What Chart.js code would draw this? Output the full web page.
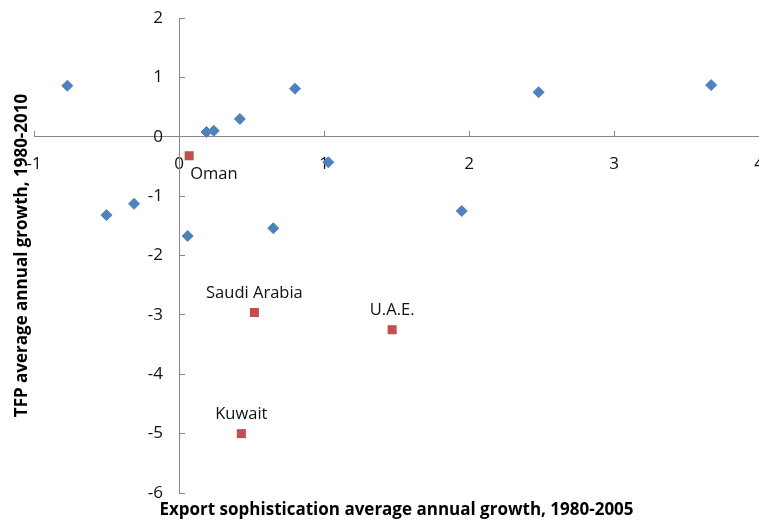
<!DOCTYPE html>
<html>
<head>
<meta charset="utf-8">
<script src="https://cdn.jsdelivr.net/npm/chart.js@4/dist/chart.umd.min.js"></script>
<style>
    html, body { margin: 0; padding: 0; background: #fff; }
    #wrap { width: 759px; height: 521px; }
</style>
</head>
<body>
<div id="wrap"><canvas id="chart"></canvas></div>
<script>
// Other economies (blue diamonds)
const otherX = [-0.77, -0.50, -0.31, 0.06, 0.19, 0.24, 0.42, 0.65, 0.80, 1.03, 1.95, 2.48, 3.67];
const otherY = [0.86, -1.32, -1.13, -1.67, 0.08, 0.10, 0.30, -1.54, 0.81, -0.43, -1.25, 0.75, 0.87];

// Gulf economies (red squares, labelled)
const gulfNames = ['Oman', 'Saudi Arabia', 'U.A.E.', 'Kuwait'];
const gulfX = [0.07, 0.52, 1.47, 0.43];
const gulfY = [-0.32, -2.96, -3.25, -5.0];

// Axis ranges
const xRange = [-1, 4];
const yRange = [-6, 2];

const xTitle = 'Export sophistication average annual growth, 1980-2005';
const yTitle = 'TFP average annual growth, 1980-2010';

const FONT = "'Open Sans', 'Noto Sans', sans-serif";
const AXIS_GREY = '#868686';

// Axes that cross at zero should not eat layout space
function zeroSize(scale) {
    if (scale.isHorizontal()) scale.height = 0; else scale.width = 0;
    scale.paddingLeft = scale.paddingRight = scale.paddingTop = scale.paddingBottom = 0;
}

/**
 * Move the y tick labels a little left of the crossing axis
 */
const yLabelGap = {
    id: 'yLabelGap',
    beforeDraw(chart) {
        const items = chart.scales.y.getLabelItems();
        if (items._shifted) return;
        items.forEach(item => { item.options.translation[0] -= 16; });
        items._shifted = true;
    }
};

/**
 * Draw country names next to the red squares
 */
const pointNames = {
    id: 'pointNames',
    afterDatasetsDraw(chart) {
        const meta = chart.getDatasetMeta(1);
        const ctx = chart.ctx;
        ctx.save();
        ctx.font = '16.5px ' + FONT;
        ctx.fillStyle = '#111';
        ctx.textBaseline = 'middle';
        meta.data.forEach((pt, i) => {
            if (i === 0) {
                // Oman sits below and to the right of its marker
                ctx.textAlign = 'left';
                ctx.fillText(gulfNames[i], pt.x + 1, pt.y + 19);
            } else {
                ctx.textAlign = 'center';
                ctx.fillText(gulfNames[i], pt.x, pt.y - 19);
            }
        });
        ctx.restore();
    }
};

const toPoints = (xs, ys) => xs.map((x, i) => ({ x: x, y: ys[i] }));

new Chart(document.getElementById('chart'), {
    type: 'scatter',
    data: {
        datasets: [
            {
                label: 'Other',
                data: toPoints(otherX, otherY),
                pointStyle: 'rectRot',
                pointRadius: 5.5,
                pointHoverRadius: 5.5,
                backgroundColor: '#4F81BD',
                borderColor: '#4F81BD',
                borderWidth: 1
            },
            {
                label: 'Gulf',
                data: toPoints(gulfX, gulfY),
                pointStyle: 'rect',
                pointRadius: 6.4,
                pointHoverRadius: 6.4,
                backgroundColor: '#C0504D',
                borderColor: '#C0504D',
                borderWidth: 0
            }
        ]
    },
    options: {
        responsive: true,
        maintainAspectRatio: false,
        animation: false,
        events: [],
        layout: {
            autoPadding: false,
            padding: { left: 8, right: -1, top: 18, bottom: 0 }
        },
        plugins: {
            legend: { display: false },
            tooltip: { enabled: false },
            title: {
                display: true,
                position: 'left',
                fullSize: false,
                text: yTitle,
                color: '#000',
                font: { family: FONT, size: 17, weight: 'bold' },
                padding: { top: 3.8, bottom: 1.8 }
            },
            subtitle: {
                display: true,
                position: 'bottom',
                fullSize: false,
                text: xTitle,
                color: '#000',
                font: { family: FONT, size: 17, weight: 'bold' },
                padding: { top: 6.8, bottom: 0.8 }
            }
        },
        scales: {
            x: {
                type: 'linear',
                position: { y: 0 },
                min: xRange[0],
                max: xRange[1],
                afterFit: zeroSize,
                border: { display: true, color: AXIS_GREY, width: 1 },
                grid: {
                    drawOnChartArea: false,
                    drawTicks: true,
                    tickLength: -6,
                    color: AXIS_GREY
                },
                ticks: {
                    stepSize: 1,
                    padding: 23.5,
                    color: '#111',
                    font: { family: FONT, size: 17 },
                    maxRotation: 0
                }
            },
            y: {
                type: 'linear',
                position: { x: 0 },
                min: yRange[0],
                max: yRange[1],
                afterFit: zeroSize,
                border: { display: true, color: AXIS_GREY, width: 1 },
                grid: {
                    drawOnChartArea: false,
                    drawTicks: true,
                    tickLength: -6,
                    color: AXIS_GREY
                },
                ticks: {
                    stepSize: 1,
                    color: '#111',
                    font: { family: FONT, size: 17 }
                }
            }
        }
    },
    plugins: [yLabelGap, pointNames]
});
</script>
</body>
</html>
